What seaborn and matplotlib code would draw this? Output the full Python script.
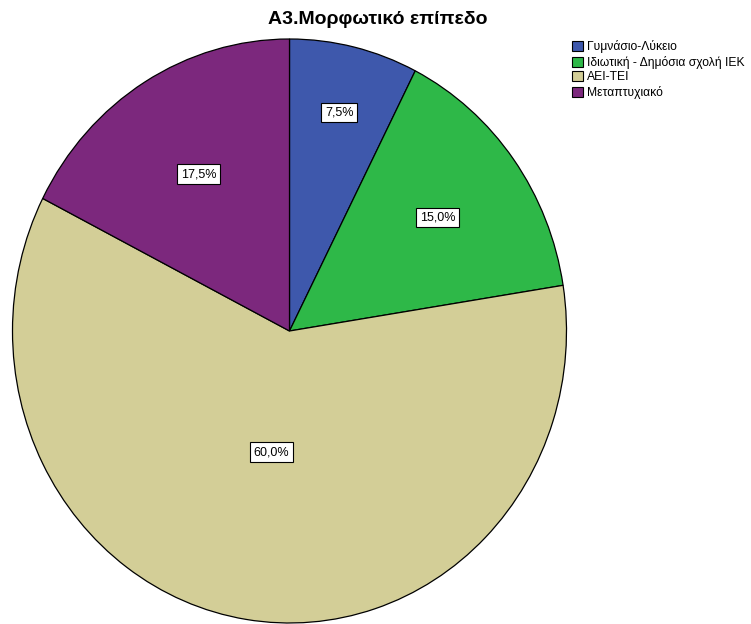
import numpy as np
import matplotlib
matplotlib.use("Agg")
import matplotlib.pyplot as plt
import seaborn as sns

categories = ["Γυμνάσιο-Λύκειο", "Ιδιωτική - Δημόσια σχολή ΙΕΚ", "ΑΕΙ-ΤΕΙ", "Μεταπτυχιακό"]
values = [7.5, 15.0, 60.0, 17.5]
pct_labels = ["7,5%", "15,0%", "60,0%", "17,5%"]
title = "Α3.Μορφωτικό επίπεδο"
colors_hex = ["#3E58AC", "#2EB848", "#D3CE97", "#7C287D"]
label_dist = [0.77, 0.66, 0.42, 0.63]

sns.set_theme(style="white")
plt.rcParams['font.family'] = ['Liberation Sans', 'DejaVu Sans']
plt.rcParams['text.color'] = 'black'
palette = sns.color_palette(colors_hex)

W, H = 751, 624
fig = plt.figure(figsize=(W / 100, H / 100), dpi=100)
ax = fig.add_axes([0, 0, 1, 1])
rx, ry = 277.0, 292.0
cx_px, cy_px = 289.5, 331.0
ytop = H * rx / ry
ax.set_xlim(0, W)
ax.set_ylim(0, ytop)
center = (cx_px, ytop - cy_px * rx / ry)

wedges, _ = ax.pie(values, colors=palette, startangle=90, counterclock=False,
                   radius=rx, center=center,
                   wedgeprops=dict(edgecolor="black", linewidth=0.9))
ax.set_aspect("auto")
ax.set_xlim(0, W)
ax.set_ylim(0, ytop)
ax.axis("off")

for w, lab, d in zip(wedges, pct_labels, label_dist):
    ang = np.deg2rad((w.theta1 + w.theta2) / 2)
    x = center[0] + d * rx * np.cos(ang)
    y = center[1] + d * rx * np.sin(ang)
    ax.text(x, y, lab, ha="center", va="center", fontsize=9, color="black",
            bbox=dict(boxstyle="square,pad=0.3", facecolor="white", edgecolor="black", linewidth=0.8))

fig.text(0.503, 1 - 20 / H, title, ha="center", va="center", fontsize=14,
         fontweight="bold", color="black")

leg = fig.legend(wedges, categories, loc="upper left", bbox_to_anchor=(564 / W, 1 - 32 / H),
                 frameon=False, fontsize=8.7, handlelength=0.9, handleheight=0.9,
                 handletextpad=0.3, labelspacing=0.2, borderpad=0.2)
for t in leg.get_texts():
    t.set_color("black")
for p in leg.get_patches():
    p.set_edgecolor("black")
    p.set_linewidth(0.8)

fig.savefig("out.png", dpi=100)
